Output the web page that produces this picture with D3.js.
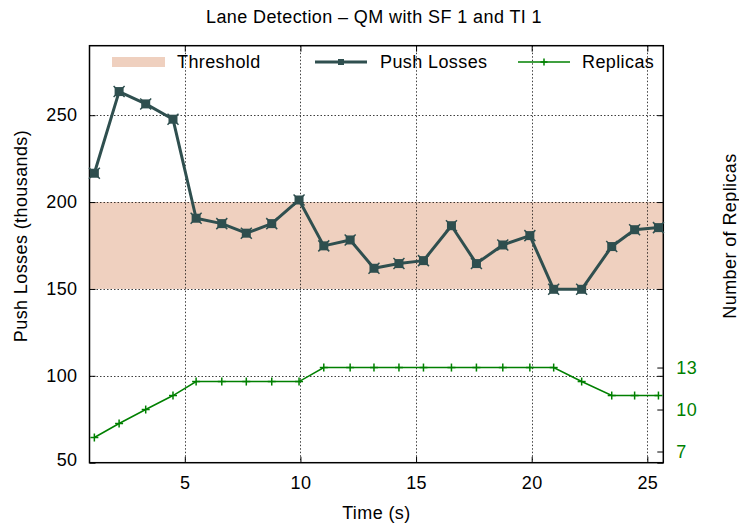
<!DOCTYPE html>
<html>
<head>
<meta charset="utf-8">
<script src="https://cdn.jsdelivr.net/npm/d3@7"></script>
<style>
  body { margin: 0; background: #fff; }
  svg { display: block; font-family: "Liberation Sans", Arial, Helvetica, sans-serif; }
</style>
</head>
<body>
<svg id="chart" width="739" height="524"></svg>
<script>
// Sample times (s)
const times = [1.09, 2.16, 3.31, 4.49, 5.49, 6.60, 7.66, 8.76, 9.94, 11.01, 12.15, 13.18,
               14.26, 15.32, 16.53, 17.61, 18.75, 19.92, 20.95, 22.16, 23.46, 24.45, 25.48];
// Push losses (thousands)
const pushLosses = [216.6, 263.6, 256.5, 247.7, 190.7, 187.6, 182.1, 187.6, 201.2, 174.8, 178.2, 161.9,
                    164.6, 166.3, 186.4, 164.6, 175.3, 180.7, 149.8, 149.8, 174.4, 184.1, 185.3];
// Number of replicas
const replicas = [8, 9, 10, 11, 12, 12, 12, 12, 12, 13, 13, 13,
                  13, 13, 13, 13, 13, 13, 13, 12, 11, 11, 11];
// Acceptable band for push losses
const thresholdBand = [150, 200];

const xTicks = [5, 10, 15, 20, 25];
const yTicks = [50, 100, 150, 200, 250];
const y2Ticks = [7, 10, 13];

const svg = d3.select("#chart");
const L = 89.5, R = 663.3, T = 45.7, B = 462.7;
const FS = "18px";
const LS = "0.4px";

const x = d3.scaleLinear().domain([0.88, 25.69]).range([L, R]);
const y = d3.scaleLinear().domain([50, 290]).range([B, T]);
const y2 = d3.scaleLinear().domain([6.2, 36.0]).range([B, T]);

const darkSlate = "#2f4f4f";
const green = "#008000";

// Threshold band
svg.append("rect")
  .attr("x", L).attr("width", R - L)
  .attr("y", y(thresholdBand[1])).attr("height", y(thresholdBand[0]) - y(thresholdBand[1]))
  .attr("fill", "#efd0bf");

// Grid lines
const grid = svg.append("g").attr("stroke", "#000").attr("stroke-width", 1)
  .attr("stroke-dasharray", "1.5,2").attr("opacity", 0.75);
xTicks.forEach(t => grid.append("line")
  .attr("x1", Math.round(x(t)) + 0.5).attr("x2", Math.round(x(t)) + 0.5)
  .attr("y1", T).attr("y2", B));
yTicks.slice(1).forEach(t => grid.append("line")
  .attr("x1", L).attr("x2", R)
  .attr("y1", Math.round(y(t)) + 0.5).attr("y2", Math.round(y(t)) + 0.5));

// Axes (ticks pointing inward, mirrored on the opposite side)
const axisG = svg.append("g");
const bottomAxis = d3.axisBottom(x).tickValues(xTicks).tickSize(-6).tickPadding(14).tickFormat(d3.format("d"));
const topAxis = d3.axisTop(x).tickValues(xTicks).tickSize(-6).tickFormat("");
const leftAxis = d3.axisLeft(y).tickValues(yTicks).tickSize(-6).tickPadding(12).tickFormat(d3.format("d"));
const rightAxisMirror = d3.axisRight(y).tickValues(yTicks).tickSize(-6).tickFormat("");
const rightAxis = d3.axisRight(y2).tickValues(y2Ticks).tickSize(-6).tickPadding(13).tickFormat(d3.format("d"));

function styleAxis(g, color) {
  g.select(".domain").remove();
  g.selectAll(".tick line").attr("stroke", "#000").attr("stroke-width", 1);
  g.selectAll(".tick text").attr("fill", color).attr("font-size", FS)
    .attr("letter-spacing", LS)
    .attr("font-family", "Liberation Sans, Arial, sans-serif");
}
axisG.append("g").attr("transform", `translate(0,${B})`).call(bottomAxis).call(g => styleAxis(g, "#000"));
axisG.append("g").attr("transform", `translate(0,${T})`).call(topAxis).call(g => styleAxis(g, "#000"));
axisG.append("g").attr("transform", `translate(${L},0)`).call(leftAxis).call(g => styleAxis(g, "#000"));
axisG.append("g").attr("transform", `translate(${R},0)`).call(rightAxisMirror).call(g => styleAxis(g, "#000"));
axisG.append("g").attr("transform", `translate(${R},0)`).call(rightAxis).call(g => styleAxis(g, green));
axisG.selectAll(".tick text").filter(function() { return this.textContent === "50"; }).attr("dy", "0.15em");

// Border
svg.append("rect").attr("x", L).attr("y", T).attr("width", R - L).attr("height", B - T)
  .attr("fill", "none").attr("stroke", "#000").attr("stroke-width", 1.5);

// Replicas line
const repData = times.map((t, i) => [t, replicas[i]]);
svg.append("path").datum(repData)
  .attr("fill", "none").attr("stroke", green).attr("stroke-width", 1.5)
  .attr("d", d3.line().x(d => x(d[0])).y(d => y2(d[1])));
const plus = (g, cx, cy, s, color, w) => {
  g.append("line").attr("x1", cx - s).attr("x2", cx + s).attr("y1", cy).attr("y2", cy)
    .attr("stroke", color).attr("stroke-width", w);
  g.append("line").attr("x1", cx).attr("x2", cx).attr("y1", cy - s).attr("y2", cy + s)
    .attr("stroke", color).attr("stroke-width", w);
};
const repMarks = svg.append("g");
repData.forEach(d => plus(repMarks, x(d[0]), y2(d[1]), 4, green, 1.5));

// Push losses line
const plData = times.map((t, i) => [t, pushLosses[i]]);
svg.append("path").datum(plData)
  .attr("fill", "none").attr("stroke", darkSlate).attr("stroke-width", 3)
  .attr("stroke-linejoin", "round")
  .attr("d", d3.line().x(d => x(d[0])).y(d => y(d[1])));
const boxMark = (g, cx, cy, s) => {
  g.append("rect").attr("x", cx - s).attr("y", cy - s).attr("width", 2 * s).attr("height", 2 * s)
    .attr("fill", darkSlate);
  g.append("path")
    .attr("d", `M${cx - s - 1},${cy - s - 1}L${cx + s + 1},${cy + s + 1}M${cx - s - 1},${cy + s + 1}L${cx + s + 1},${cy - s - 1}`)
    .attr("stroke", darkSlate).attr("stroke-width", 1.5);
};
const plMarks = svg.append("g");
plData.forEach(d => boxMark(plMarks, x(d[0]), y(d[1]), 4.5));

// Legend
const legendY = 62;
const lg = svg.append("g").attr("font-size", FS).attr("letter-spacing", LS).attr("fill", "#000");
lg.append("rect").attr("x", 112).attr("y", legendY - 5).attr("width", 53).attr("height", 10).attr("fill", "#efd0bf");
lg.append("text").attr("x", 177).attr("y", legendY).attr("dy", "0.35em").text("Threshold");
lg.append("line").attr("x1", 315).attr("x2", 367).attr("y1", legendY).attr("y2", legendY)
  .attr("stroke", darkSlate).attr("stroke-width", 3);
lg.append("rect").attr("x", 338).attr("y", legendY - 3).attr("width", 6).attr("height", 6).attr("fill", darkSlate);
lg.append("text").attr("x", 380).attr("y", legendY).attr("dy", "0.35em").text("Push Losses");
lg.append("line").attr("x1", 518).attr("x2", 570).attr("y1", legendY).attr("y2", legendY)
  .attr("stroke", green).attr("stroke-width", 1.5);
plus(lg, 544, legendY, 3.5, green, 1.5);
lg.append("text").attr("x", 582).attr("y", legendY).attr("dy", "0.35em").text("Replicas");

// Titles
const labels = svg.append("g").attr("font-size", FS).attr("letter-spacing", LS).attr("text-anchor", "middle");
labels.append("text").attr("x", 374).attr("y", 17).attr("dy", "0.35em")
  .text("Lane Detection – QM with SF 1 and TI 1");
labels.append("text").attr("x", (L + R) / 2).attr("y", 513).attr("dy", "0.35em")
  .text("Time (s)");
labels.append("text").attr("transform", "translate(21,236) rotate(-90)").attr("dy", "0.35em")
  .text("Push Losses (thousands)");
labels.append("text").attr("transform", "translate(730,236) rotate(-90)").attr("dy", "0.35em")
  .text("Number of Replicas");
</script>
</body>
</html>
